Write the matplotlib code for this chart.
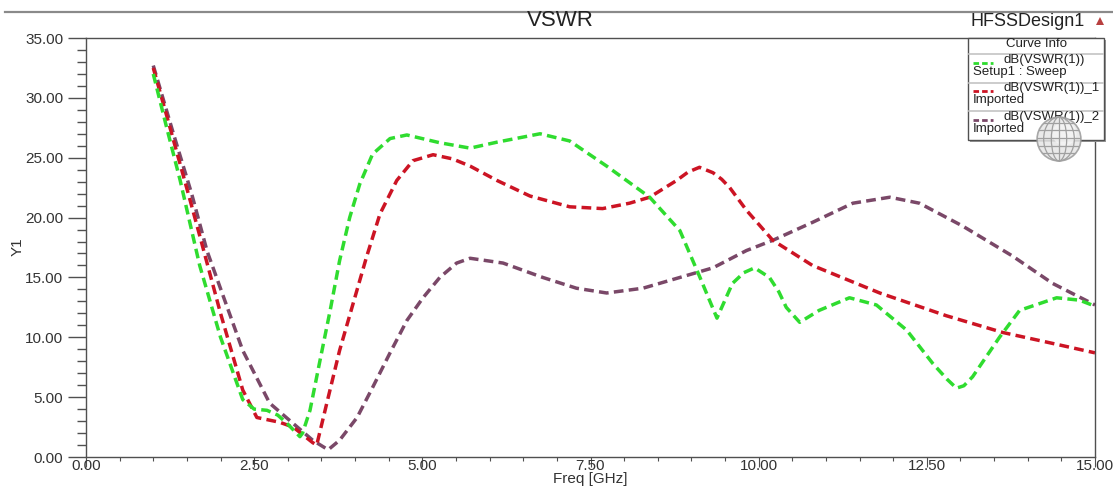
import matplotlib
matplotlib.use("Agg")
import matplotlib.pyplot as plt
from matplotlib.patches import Rectangle, Circle, Ellipse, Polygon
from matplotlib.lines import Line2D
from matplotlib.ticker import MultipleLocator, FormatStrFormatter

plt.rcParams['font.family'] = ['Liberation Sans', 'DejaVu Sans']
plt.rcParams['lines.scale_dashes'] = False

# ---------------- data ----------------
green_f = [1.0, 1.2, 1.4, 1.69, 2.0, 2.33, 2.5, 2.69, 2.85, 2.99, 3.18, 3.22, 3.33, 3.48,
           3.63, 3.77, 3.92, 4.07, 4.26, 4.52, 4.77, 5.26, 5.71, 6.11, 6.75, 7.19, 7.74,
           8.38, 8.83, 9.12, 9.38, 9.61, 9.78, 9.94, 10.16, 10.3, 10.41, 10.61, 10.9,
           11.35, 11.75, 12.2, 12.59, 12.8, 12.94, 13.05, 13.18, 13.58, 13.88, 14.43,
           14.77, 15.0]
green_v = [32.0, 27.5, 23.1, 16.0, 10.0, 4.8, 4.0, 3.9, 3.5, 2.8, 1.7, 2.0, 3.9, 8.1,
           12.25, 16.4, 20.0, 22.8, 25.3, 26.6, 26.9, 26.25, 25.8, 26.3, 27.0, 26.4, 24.3,
           21.7, 18.9, 15.1, 11.6, 14.5, 15.4, 15.8, 15.0, 13.8, 12.5, 11.25, 12.25,
           13.3, 12.7, 10.6, 7.8, 6.5, 5.75, 5.95, 6.7, 10.0, 12.25, 13.3,
           13.1, 12.6]

red_f = [1.0, 1.2, 1.55, 1.69, 2.0, 2.33, 2.54, 2.88, 3.08, 3.37, 3.43, 3.58, 3.77, 3.97,
         4.17, 4.37, 4.62, 4.86, 5.16, 5.45, 5.71, 6.11, 6.6, 7.19, 7.68, 8.08, 8.38,
         8.78, 8.95, 9.12, 9.32, 9.45, 9.57, 9.82, 10.21, 10.8, 11.8, 12.79, 13.63, 14.28,
         15.0]
red_v = [32.5, 28.5, 21.4, 18.5, 12.0, 5.6, 3.3, 2.9, 2.5, 1.2, 1.0, 4.5, 8.9, 12.8,
         16.7, 20.3, 23.1, 24.75, 25.25, 24.9, 24.3, 23.1, 21.8, 20.9, 20.75, 21.2, 21.7,
         23.1, 23.8, 24.2, 23.75, 23.2, 22.5, 20.6, 18.1, 16.0, 13.7, 11.8, 10.4, 9.6,
         8.7]

purple_f = [1.0, 1.3, 1.57, 1.8, 2.33, 2.73, 3.08, 3.37, 3.6, 3.77, 4.03, 4.26, 4.52, 4.77,
            5.01, 5.26, 5.51, 5.71, 6.2, 6.79, 7.29, 7.74, 8.28, 8.83, 9.32, 9.82, 10.21,
            10.8, 11.4, 11.95, 12.39, 13.03, 13.77, 14.37, 15.0]
purple_v = [32.7, 27.0, 22.0, 17.2, 8.9, 4.5, 2.8, 1.4, 0.6, 1.4, 3.3, 5.8, 8.7, 11.4,
            13.3, 15.0, 16.2, 16.6, 16.2, 15.0, 14.1, 13.7, 14.1, 15.0, 15.8, 17.25, 18.1,
            19.6, 21.2, 21.7, 21.2, 19.3, 16.8, 14.5, 12.7]

series_names = ["dB(VSWR(1))", "dB(VSWR(1))_1", "dB(VSWR(1))_2"]
series_sub = ["Setup1 : Sweep", "Imported", "Imported"]
series_colors = ["#2fdc2f", "#cc1424", "#7a4868"]

x_ticks = [0.0, 2.5, 5.0, 7.5, 10.0, 12.5, 15.0]
y_ticks = [0, 5, 10, 15, 20, 25, 30, 35]

# ---------------- figure ----------------
W, H = 1113, 486
fig = plt.figure(figsize=(W / 100, H / 100), dpi=100)
fig.patch.set_facecolor('white')

def fx(x):
    return x / W

def fy(y):
    return 1 - y / H

ax_l, ax_r, ax_t, ax_b = 86, 1095, 38, 457
ax = fig.add_axes([fx(ax_l), fy(ax_b), fx(ax_r - ax_l), (ax_b - ax_t) / H])

dash = (7.0, 3.8)
data = [(purple_f, purple_v, series_colors[2]),
        (red_f, red_v, series_colors[1]),
        (green_f, green_v, series_colors[0])]
for f, v, c in data:
    ax.plot(f, v, color=c, lw=2.5, dashes=dash, dash_capstyle='butt',
            dash_joinstyle='round')

ax.set_xlim(0, 15)
ax.set_ylim(0, 35)
ax.set_xticks(x_ticks)
ax.set_yticks(y_ticks)
ax.xaxis.set_major_formatter(FormatStrFormatter('%.2f'))
ax.yaxis.set_major_formatter(FormatStrFormatter('%.2f'))
ax.xaxis.set_minor_locator(MultipleLocator(0.5))
ax.yaxis.set_minor_locator(MultipleLocator(1))

spine_c = '#505050'
for s in ax.spines.values():
    s.set_color(spine_c)
    s.set_linewidth(1.0)

ax.tick_params(axis='y', which='major', direction='out', length=13, width=1,
               color=spine_c, labelsize=11, labelcolor='#333333', pad=3.5)
ax.tick_params(axis='y', which='minor', direction='out', length=6.5, width=1, color=spine_c)
ax.tick_params(axis='x', which='major', direction='out', length=7, width=0.8,
               color=spine_c, labelsize=11, labelcolor='#333333', pad=-5.5)
ax.tick_params(axis='x', which='minor', direction='out', length=3, width=0.8, color=spine_c)

fig.text(fx(18), fy(247), "Y1", rotation=90, ha='center', va='center',
         fontsize=11, color='#333333')
fig.text(fx(590), fy(479), "Freq [GHz]", ha='center', va='center',
         fontsize=11, color='#333333')

# top separator line and titles
fig.add_artist(Line2D([fx(5), fx(1113)], [fy(12), fy(12)], transform=fig.transFigure,
                      color='#8a8a8a', lw=1.6))
fig.text(fx(560), fy(21), "VSWR", ha='center', va='center', fontsize=16, color='#222222')
fig.text(fx(1085), fy(22), "HFSSDesign1", ha='right', va='center', fontsize=13, color='#222222')
fig.add_artist(Polygon([[fx(1096), fy(25)], [fx(1104), fy(25)], [fx(1100), fy(17)]],
                       closed=True, transform=fig.transFigure, facecolor='#b84040',
                       edgecolor='none'))

# ---------------- legend ("Curve Info") ----------------
bl, bt, br, bb = 968, 38, 1104, 140
fig.add_artist(Rectangle((fx(bl + 2), fy(bb + 2)), fx(br - bl), (bb - bt) / H,
                         transform=fig.transFigure, facecolor='#9a9a9a', edgecolor='none',
                         zorder=5))
fig.add_artist(Rectangle((fx(bl), fy(bb)), fx(br - bl), (bb - bt) / H,
                         transform=fig.transFigure, facecolor='white', edgecolor='#505050',
                         lw=1.0, zorder=6))
fig.text(fx(1037), fy(44), "Curve Info", ha='center', va='center', fontsize=9.5,
         color='#222222', zorder=7)
for ysep in [54, 83, 111]:
    fig.add_artist(Line2D([fx(bl + 1), fx(br - 1)], [fy(ysep), fy(ysep)],
                          transform=fig.transFigure, color='#c4c4c4', lw=1.2, zorder=7))

row_dash_y = [63, 91, 120]
row_main_y = [60, 88, 117]
row_sub_y = [72, 100, 129]
for i in range(3):
    fig.add_artist(Line2D([fx(973), fx(993)], [fy(row_dash_y[i]), fy(row_dash_y[i])],
                          transform=fig.transFigure, color=series_colors[i], lw=2.0,
                          dashes=(4.0, 2.2), zorder=7))
    fig.text(fx(1003), fy(row_main_y[i]), series_names[i], ha='left', va='center',
             fontsize=9.5, color='#222222', zorder=7)
    fig.text(fx(973), fy(row_sub_y[i]), series_sub[i], ha='left', va='center',
             fontsize=9.5, color='#222222', zorder=7)

# globe icon
gl, gt, gs = 1036, 116, 46
gax = fig.add_axes([fx(gl), fy(gt + gs), fx(gs), gs / H], zorder=10)
gax.set_xlim(-1.05, 1.05)
gax.set_ylim(-1.05, 1.05)
gax.set_aspect('equal')
gax.axis('off')
gax.patch.set_alpha(0)
gax.add_patch(Circle((0, 0), 1.0, facecolor='#e6e6e6', edgecolor='#9a9a9a', lw=1.2, alpha=0.85))
gax.add_patch(Circle((0.25, 0.25), 0.55, facecolor='#f6f6f6', edgecolor='none', alpha=0.7))
clip = Circle((0, 0), 1.0, transform=gax.transData)
for w in [0.7, 1.4]:
    e = Ellipse((0, 0), w, 2.0, facecolor='none', edgecolor='#a0a0a0', lw=0.9)
    gax.add_patch(e)
gax.plot([0, 0], [-1, 1], color='#a0a0a0', lw=0.9)
for yy in [-0.65, -0.3, 0.05, 0.4, 0.72]:
    ln, = gax.plot([-1, 1], [yy, yy], color='#a0a0a0', lw=0.9)
    ln.set_clip_path(clip)

fig.savefig("out.png", dpi=100, facecolor='white')
